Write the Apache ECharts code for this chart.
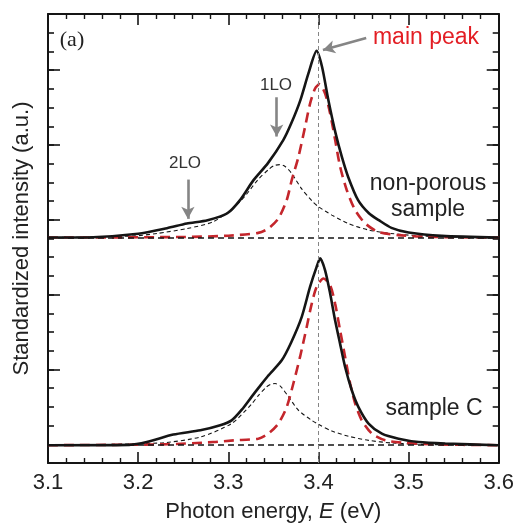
<!DOCTYPE html>
<html>
<head>
<meta charset="utf-8">
<script src="https://cdn.jsdelivr.net/npm/echarts@6/dist/echarts.min.js"></script>
<style>
  html, body { margin: 0; padding: 0; background: #fff; }
  #chart { width: 517px; height: 528px; }
</style>
</head>
<body>
<div id="chart"></div>
<script>
// x axis ticks
const xTicks = [3.1, 3.2, 3.3, 3.4, 3.5, 3.6]
// y slots (no labels, only ticks)
const ySlots = Array.from({ length: 25 }, (_, i) => String(i))

// baselines of the two stacked spectra
const upperBase = 12.05
const lowerBase = 0.95

// non-porous sample: measured spectrum
const upperE = [3.10, 3.15, 3.20, 3.232, 3.254, 3.277, 3.299, 3.313, 3.328, 3.344, 3.361, 3.370, 3.380, 3.389, 3.398, 3.404, 3.411, 3.419, 3.426, 3.433, 3.444, 3.456, 3.467, 3.481, 3.50, 3.537, 3.60]
const upperTotal = [0, 0.02, 0.2, 0.5, 0.75, 0.93, 1.3, 2.0, 3.07, 3.98, 5.21, 6.12, 7.35, 8.79, 9.98, 9.13, 7.35, 5.58, 4.31, 3.24, 2.0, 1.3, 0.93, 0.52, 0.27, 0.09, 0]
// non-porous: main peak component
const upperMainE = [3.10, 3.25, 3.30, 3.3333, 3.3444, 3.3556, 3.3648, 3.3704, 3.3778, 3.3852, 3.3908, 3.3963, 3.4011, 3.4074, 3.413, 3.4186, 3.4241, 3.4315, 3.4408, 3.452, 3.4667, 3.4889, 3.5185, 3.60]
const upperMain = [0, 0.03, 0.1, 0.25, 0.48, 1.02, 2.0, 3.07, 4.31, 5.92, 7.17, 7.97, 8.2, 7.7, 6.63, 5.21, 3.78, 2.53, 1.46, 0.75, 0.30, 0.13, 0.04, 0]
// non-porous: 1LO component
const upperLOE = [3.10, 3.194, 3.221, 3.254, 3.283, 3.306, 3.320, 3.333, 3.345, 3.351, 3.357, 3.363, 3.370, 3.3815, 3.393, 3.40, 3.415, 3.433, 3.456, 3.48, 3.52, 3.60]
const upperLO = [0, 0.08, 0.22, 0.48, 0.84, 1.6, 2.3, 3.1, 3.65, 3.85, 3.9, 3.8, 3.45, 2.6, 1.95, 1.65, 1.2, 0.75, 0.4, 0.22, 0.07, 0]

// sample C: measured spectrum
const lowerE = [3.10, 3.19, 3.2096, 3.239, 3.269, 3.291, 3.3037, 3.315, 3.326, 3.3333, 3.344, 3.3593, 3.370, 3.3815, 3.3907, 3.398, 3.4019, 3.4074, 3.413, 3.4185, 3.424, 3.4296, 3.437, 3.4444, 3.4556, 3.4704, 3.4889, 3.5111, 3.5407, 3.60]
const lowerTotal = [0, 0.02, 0.17, 0.57, 0.80, 1.07, 1.33, 1.9, 2.6, 3.05, 3.7, 4.54, 5.52, 6.86, 8.46, 9.53, 9.99, 9.35, 8.11, 6.68, 5.43, 4.18, 2.94, 2.04, 1.16, 0.62, 0.35, 0.17, 0.09, 0]
// sample C: main peak component
const lowerMainE = [3.10, 3.232, 3.283, 3.306, 3.3333, 3.3444, 3.3556, 3.3648, 3.3722, 3.3796, 3.387, 3.3926, 3.398, 3.4056, 3.413, 3.4185, 3.424, 3.4296, 3.4352, 3.4408, 3.4481, 3.4593, 3.4741, 3.4963, 3.5259, 3.60]
const lowerMain = [0, 0.05, 0.17, 0.26, 0.35, 0.62, 1.16, 2.04, 3.30, 4.72, 6.32, 7.57, 8.46, 8.91, 8.55, 7.57, 6.15, 4.72, 3.30, 2.23, 1.33, 0.62, 0.26, 0.12, 0.05, 0]
// sample C: 1LO component
const lowerLOE = [3.10, 3.2244, 3.269, 3.3037, 3.3259, 3.3333, 3.342, 3.347, 3.352, 3.358, 3.3667, 3.3778, 3.3926, 3.402, 3.4148, 3.4333, 3.4556, 3.4815, 3.52, 3.60]
const lowerLO = [0, 0.12, 0.44, 1.16, 2.2, 2.65, 3.1, 3.25, 3.3, 3.15, 2.6, 1.87, 1.33, 1.07, 0.76, 0.48, 0.26, 0.12, 0.04, 0]

const peakLine = 3.4

const font = 'Liberation Sans, Arial, sans-serif'
const black = '#151515'
const red = '#c4262c'
const grey = '#858585'

const toPairs = (xs, ys, base) => xs.map((x, i) => [x, ys[i] + base])

const spectrum = (name, xs, ys, base, style, z) => ({
  name,
  type: 'line',
  data: toPairs(xs, ys, base),
  showSymbol: false,
  smooth: 0.25,
  lineStyle: style,
  z,
  silent: true,
})

const solidStyle = { color: black, width: 2.6 }
const redStyle = { color: red, width: 2.6, type: [10, 6] }
const thinStyle = { color: black, width: 1.1, type: [4, 3] }

const arrow = (from, to) => ({
  coords: [from, to],
  symbolSize: [10, 12],
  lineStyle: { color: grey, width: 2.6, type: 'solid' },
})

const chart = echarts.init(document.getElementById('chart'))

const valueAxisY = (position) => ({
  type: 'value',
  position,
  min: 0,
  max: 24,
  interval: 1,
  axisLine: { show: true, onZero: false, lineStyle: { color: black, width: 2 } },
  axisTick: { show: true, inside: true, length: 6, lineStyle: { color: black, width: 1.6 } },
  axisLabel: { show: false },
  splitLine: { show: false },
})

const majorAxisY = (position) => ({
  type: 'category',
  position,
  data: ySlots,
  boundaryGap: false,
  axisLine: { show: false },
  axisTick: {
    show: true,
    inside: true,
    length: 12,
    interval: (index) => index % 4 === 1,
    lineStyle: { color: black, width: 1.6 },
  },
  axisLabel: { show: false },
  splitLine: { show: false },
})

const xAxisBase = (position, showLabel) => ({
  type: 'value',
  position,
  min: xTicks[0],
  max: xTicks[xTicks.length - 1],
  interval: 0.1,
  axisLine: { show: true, onZero: false, lineStyle: { color: black, width: 2 } },
  axisTick: { show: true, inside: true, length: 11, lineStyle: { color: black, width: 1.6 } },
  minorTick: { show: true, splitNumber: 5, length: 5, lineStyle: { color: black, width: 1.4 } },
  axisLabel: {
    show: showLabel,
    margin: 9,
    fontFamily: font,
    fontSize: 22,
    color: '#222',
    formatter: (v) => v.toFixed(1),
  },
  splitLine: { show: false },
})

const option = {
  animation: false,
  backgroundColor: '#fff',
  grid: { left: 48, right: 18, top: 14, bottom: 65 },
  xAxis: [
    Object.assign(xAxisBase('bottom', true), {
      name: 'Photon energy, {i|E} (eV)',
      nameLocation: 'middle',
      nameGap: 38,
      nameTextStyle: {
        fontFamily: font,
        fontSize: 22,
        color: '#222',
        rich: { i: { fontFamily: font, fontSize: 22, fontStyle: 'italic', color: '#222' } },
      },
    }),
    xAxisBase('top', false),
  ],
  yAxis: [
    Object.assign(valueAxisY('left'), {
      name: 'Standardized intensity (a.u.)',
      nameLocation: 'middle',
      nameGap: 15,
      nameTextStyle: { fontFamily: font, fontSize: 22, color: '#222' },
    }),
    valueAxisY('right'),
    majorAxisY('left'),
    majorAxisY('right'),
  ],
  series: [
    // baselines and vertical guide at the main peak
    {
      type: 'line',
      data: [],
      silent: true,
      markLine: {
        silent: true,
        symbol: ['none', 'none'],
        label: { show: false },
        animation: false,
        data: [
          { yAxis: upperBase, lineStyle: { color: black, width: 1.6, type: [6, 4] } },
          { yAxis: lowerBase, lineStyle: { color: black, width: 1.6, type: [6, 4] } },
          { xAxis: peakLine, lineStyle: { color: grey, width: 1, type: [4, 3] } },
        ],
      },
      z: 1,
    },
    spectrum('non-porous 1LO', upperLOE, upperLO, upperBase, thinStyle, 2),
    spectrum('sample C 1LO', lowerLOE, lowerLO, lowerBase, thinStyle, 2),
    spectrum('non-porous main', upperMainE, upperMain, upperBase, redStyle, 3),
    spectrum('sample C main', lowerMainE, lowerMain, lowerBase, redStyle, 3),
    spectrum('non-porous', upperE, upperTotal, upperBase, solidStyle, 4),
    spectrum('sample C', lowerE, lowerTotal, lowerBase, solidStyle, 4),
    // annotation arrows
    {
      type: 'line',
      data: [],
      silent: true,
      z: 5,
      markLine: {
        silent: true,
        label: { show: false },
        animation: false,
        data: [
          arrow([3.4530, 22.72], [3.4050, 22.07]),
          arrow([3.3537, 19.55], [3.3537, 17.45]),
          arrow([3.2552, 15.15], [3.2552, 13.05]),
        ].map((a) => [
          { coord: a.coords[0], symbol: 'none', lineStyle: a.lineStyle },
          { coord: a.coords[1], symbol: 'arrow', symbolSize: a.symbolSize },
        ]),
      },
    },
  ],
  graphic: [
    { type: 'text', x: 72, y: 40, style: { text: '(a)', fontFamily: 'Liberation Serif, serif', fontSize: 22, fill: '#222', textAlign: 'center', textVerticalAlign: 'middle' } },
    { type: 'text', x: 426, y: 38, style: { text: 'main peak', fontFamily: font, fontSize: 23, fill: '#e31e24', textAlign: 'center', textVerticalAlign: 'middle' } },
    { type: 'text', x: 276, y: 85, style: { text: '1LO', fontFamily: font, fontSize: 17, fill: '#333', textAlign: 'center', textVerticalAlign: 'middle' } },
    { type: 'text', x: 185, y: 163, style: { text: '2LO', fontFamily: font, fontSize: 17, fill: '#333', textAlign: 'center', textVerticalAlign: 'middle' } },
    { type: 'text', x: 428, y: 184, style: { text: 'non-porous', fontFamily: font, fontSize: 23, fill: '#222', textAlign: 'center', textVerticalAlign: 'middle' } },
    { type: 'text', x: 428, y: 210, style: { text: 'sample', fontFamily: font, fontSize: 23, fill: '#222', textAlign: 'center', textVerticalAlign: 'middle' } },
    { type: 'text', x: 434, y: 409, style: { text: 'sample C', fontFamily: font, fontSize: 23, fill: '#222', textAlign: 'center', textVerticalAlign: 'middle' } },
  ],
}

chart.setOption(option)
</script>
</body>
</html>
